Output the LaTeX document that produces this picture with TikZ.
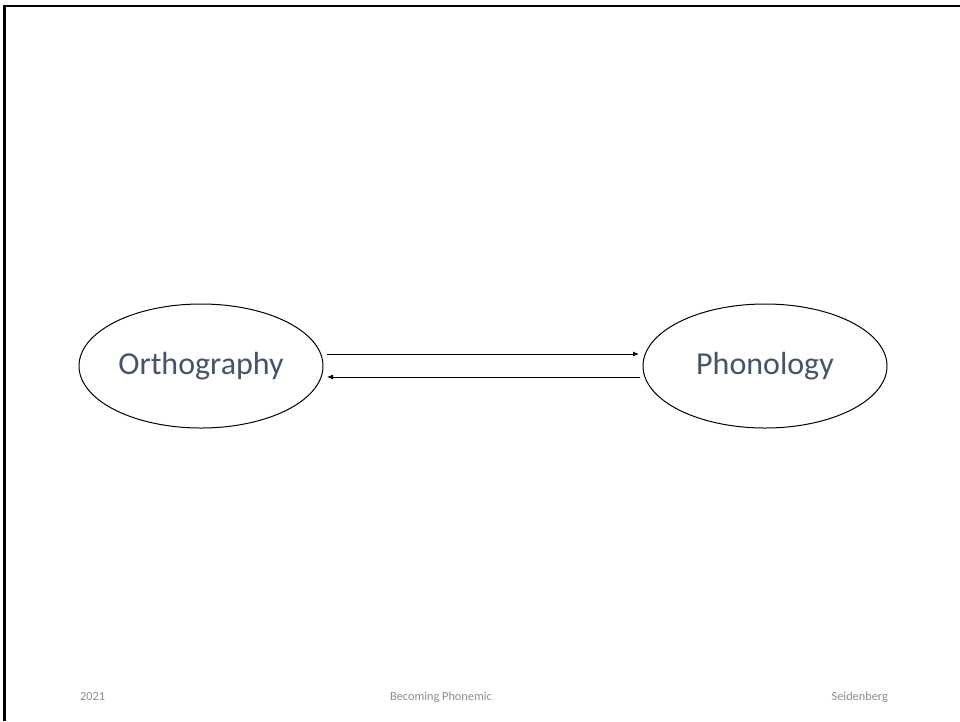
\documentclass[tikz,border=0pt]{standalone}
\usepackage{fontspec}
\setmainfont{Carlito}
\usetikzlibrary{arrows.meta,shapes.geometric}
\definecolor{slate}{HTML}{44546A}
\definecolor{footgray}{HTML}{8C8C8C}
\tikzset{
  oval/.style={draw=black, line width=1pt, ellipse, minimum width=244pt, minimum height=124pt,
    inner sep=0pt, font=\fontsize{32}{38}\selectfont, text=slate},
  flow/.style={draw=black, line width=0.9pt, -{Latex[length=6pt,width=5pt]}},
  foot/.style={font=\fontsize{12.3}{14}\selectfont, text=footgray, inner sep=0pt}
}
\begin{document}
\begin{tikzpicture}[x=1pt,y=-1pt]
  \useasboundingbox (0,0) rectangle (960,721);
  % slide frame: top and left edges only
  \draw[line width=2pt] (3,6) -- (960,6);
  \draw[line width=3pt] (4.5,5) -- (4.5,721);
  % the two representations
  \node[oval] (orth) at (201,366) {Orthography};
  \node[oval] (phon) at (765,366) {Phonology};
  % mappings in both directions
  \coordinate (o1) at (327,354);
  \coordinate (p1) at (639,354);
  \coordinate (p2) at (640,377);
  \coordinate (o2) at (327,377);
  \draw[flow] (o1) -- (p1);
  \draw[flow] (p2) -- (o2);
  % footer
  \node[foot, anchor=west] (year) at (80,697) {2021};
  \node[foot] (title) at (441,697) {Becoming Phonemic};
  \node[foot, anchor=east] (author) at (888,697) {Seidenberg};
\end{tikzpicture}
\end{document}
